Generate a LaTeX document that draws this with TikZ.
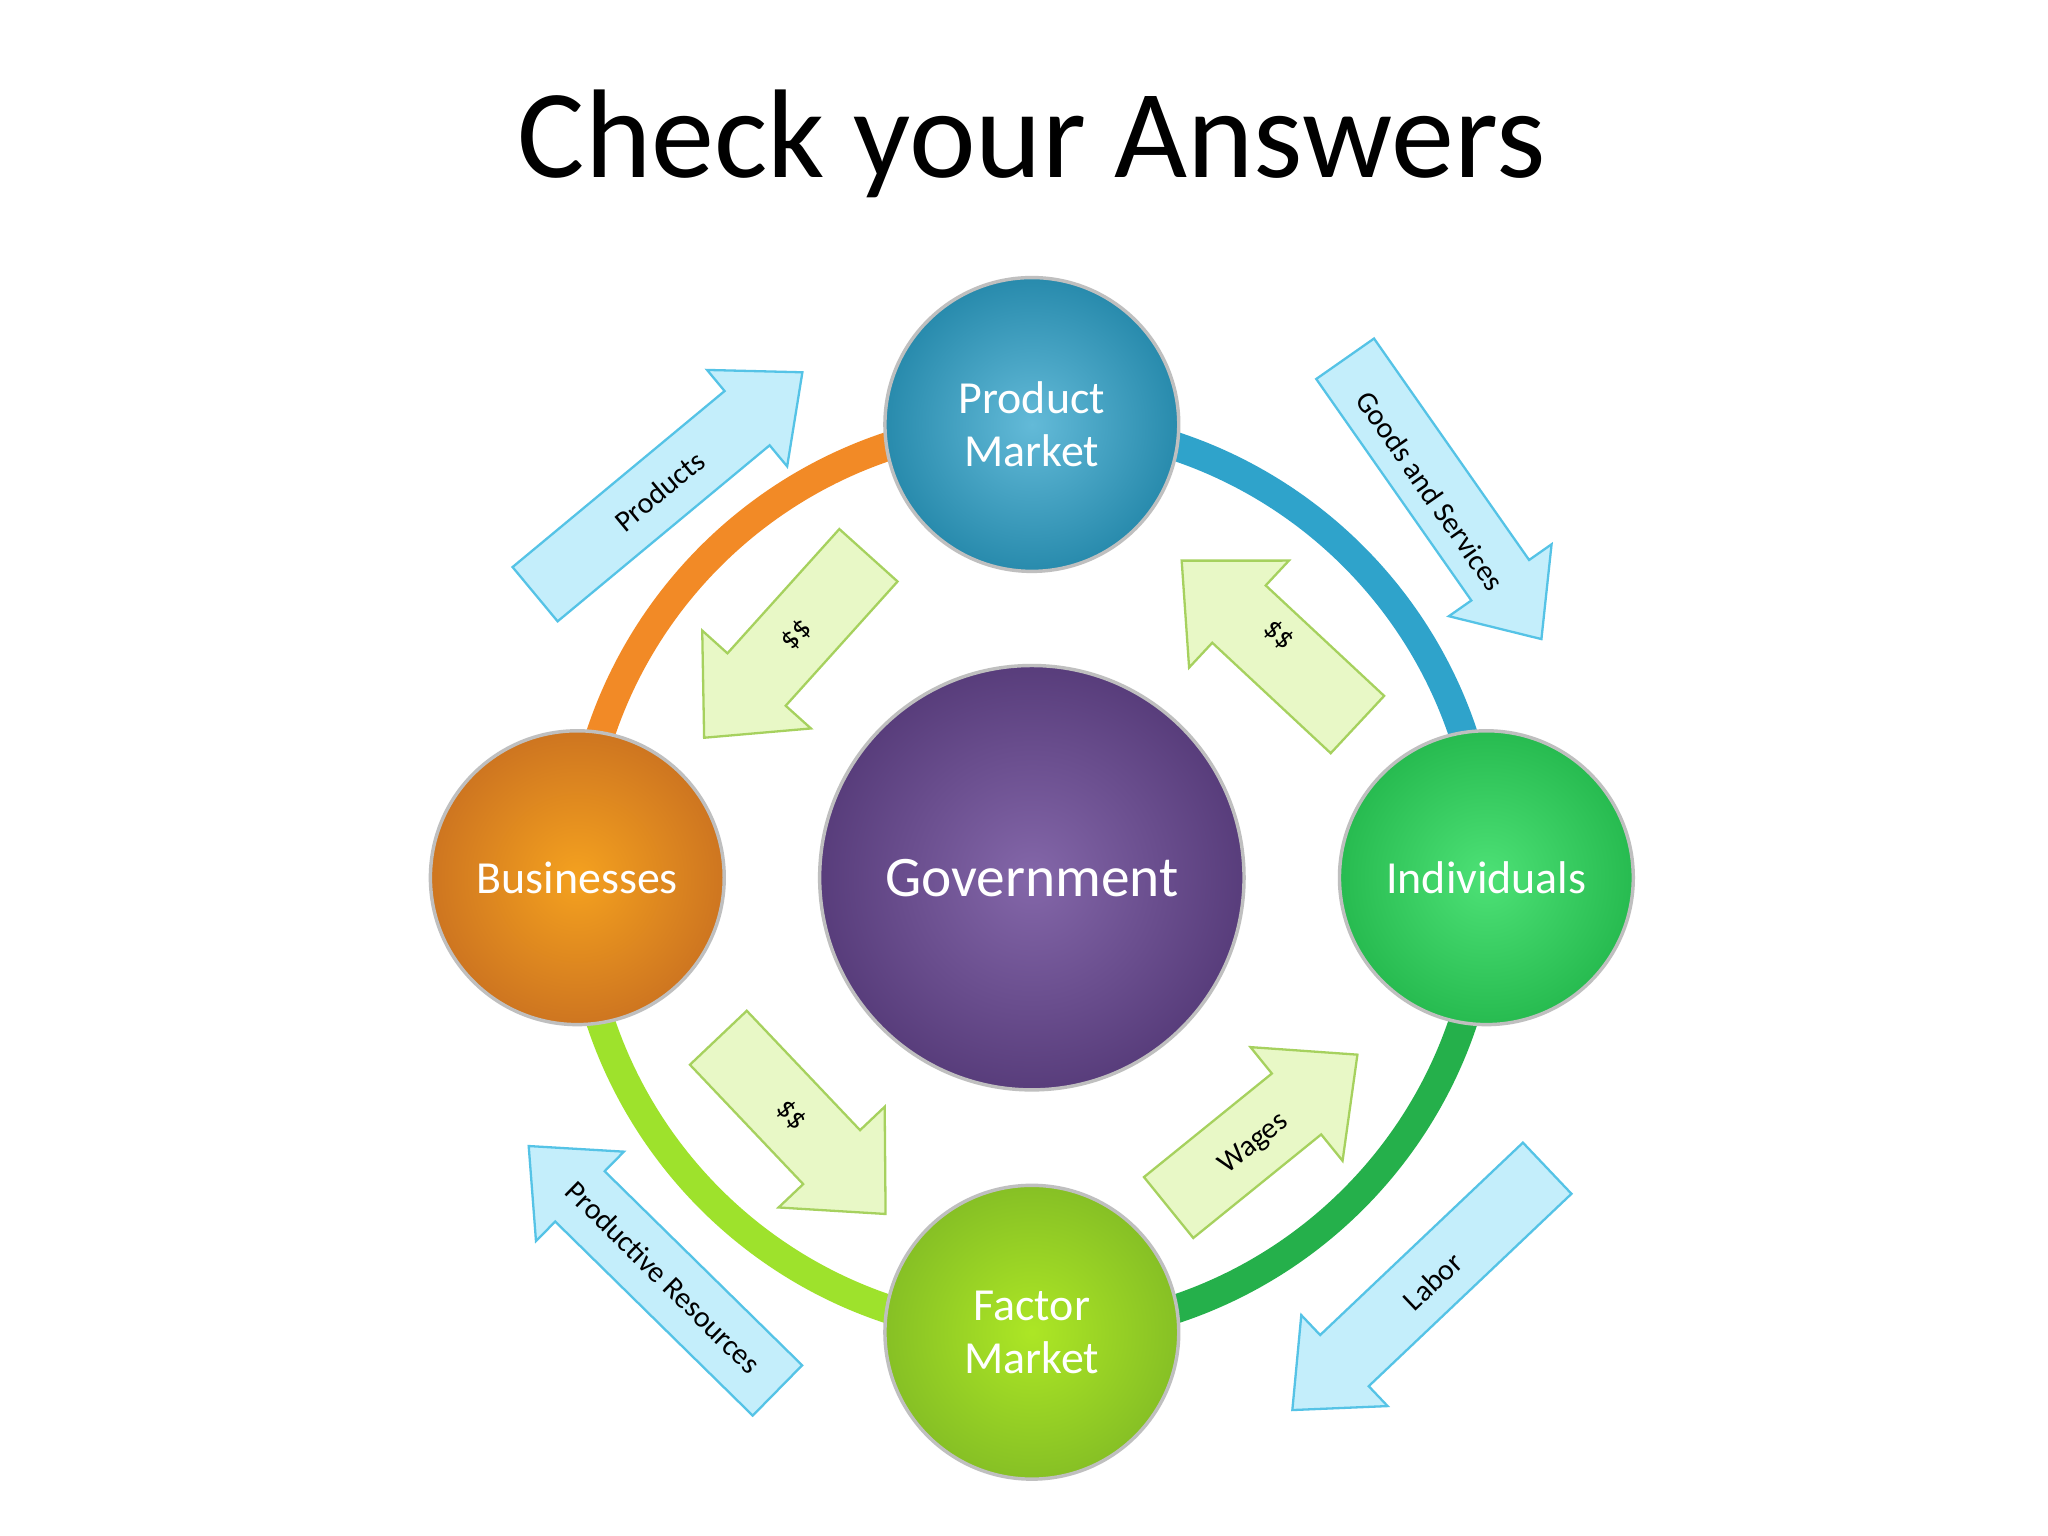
\documentclass[tikz,border=0pt]{standalone}
\usepackage{fontspec}
\setmainfont{Carlito}
\definecolor{pmc}{HTML}{2FA3CB}
\definecolor{buc}{HTML}{F28A26}
\definecolor{inc}{HTML}{2EDC5E}
\definecolor{fmc}{HTML}{9EE22C}
\definecolor{goc}{HTML}{6E4C9A}
\definecolor{bfill}{HTML}{C4EEFB}
\definecolor{bdraw}{HTML}{55C3E6}
\definecolor{gfill}{HTML}{E8F8C6}
\definecolor{gdraw}{HTML}{A6D15E}
\tikzset{
  ball/.style={circle,minimum size=#1,inner sep=0pt,draw=white!75!black,line width=1.5pt,text=white,font=\fontsize{20}{23}\selectfont,align=center},
  barrow/.style={draw=bdraw,fill=bfill,line width=1pt,line join=miter},
  garrow/.style={draw=gdraw,fill=gfill,line width=1pt,line join=miter},
  alab/.style={font=\fontsize{13}{15}\selectfont,text=black},
  ring/.style={line width=12.5pt}
}
% #1 x, #2 y, #3 angle, #4 length, #5 half body, #6 half head, #7 head length, #8 style
\newcommand\myarr[8]{%
  \draw[#8,shift={(#1,#2)},rotate=#3]
    (-#4/2,-#5) -- ({#4/2-#7},-#5) -- ({#4/2-#7},-#6) -- (#4/2,0) -- ({#4/2-#7},#6) -- ({#4/2-#7},#5) -- (-#4/2,#5) -- cycle;}
\begin{document}
\begin{tikzpicture}[x=0.02cm,y=0.02cm]
\useasboundingbox (0,0) rectangle (1568,1176);
\fill[white] (0,0) rectangle (1568,1176);
\node (title) at (790,1066) {\fontsize{55}{62}\selectfont Check your Answers};
% ring
\draw[ring,buc] (790,504) ++(90:348) arc (90:180:348);
\draw[ring,pmc] (790,504) ++(0:348) arc (0:90:348);
\draw[ring,inc!80!black] (790,504) ++(270:348) arc (270:360:348);
\draw[ring,fmc] (790,504) ++(180:348) arc (180:270:348);
% arrows
\myarr{512}{806}{39.7}{266}{27}{48}{55}{barrow}
\coordinate (a1) at (505,800); \node[alab,rotate=39.7] at (a1) {Products};
\myarr{1105}{794}{-55}{262}{27}{48}{55}{barrow}
\coordinate (a2) at (1095,800); \node[alab,rotate=-55] at (a2) {Goods and Services};
\myarr{1087}{189}{-136.5}{269}{27}{48}{55}{barrow}
\coordinate (a3) at (1097,195); \node[alab,rotate=43.5] at (a3) {Labor};
\myarr{500}{205}{135.5}{267}{27}{48}{55}{barrow}
\coordinate (a4) at (508,198); \node[alab,rotate=-44.5] at (a4) {Productive Resources};
\myarr{602}{681}{-132}{188}{30}{56}{60}{garrow}
\coordinate (g1) at (610,690); \node[alab,rotate=-132] at (g1) {\$\$};
\myarr{972}{684}{137}{184}{30}{56}{60}{garrow}
\coordinate (g2) at (979,690); \node[alab,rotate=-43] at (g2) {\$\$};
\myarr{614}{314}{-46.5}{186}{30}{56}{60}{garrow}
\coordinate (g3) at (606,322); \node[alab,rotate=-46.5] at (g3) {\$\$};
\myarr{967}{310}{39}{186}{30}{56}{60}{garrow}
\coordinate (g4) at (960,300); \node[alab,rotate=39] at (g4) {Wages};
% balls
\node[ball=4.5cm,inner color=pmc!75!white,outer color=pmc!85!black] (pm) at (790,851) {Product\\Market};
\node[ball=4.5cm,inner color=buc!80!yellow,outer color=buc!85!black] (bu) at (442,504) {Businesses};
\node[ball=4.5cm,inner color=inc!85!white,outer color=inc!85!black] (in) at (1138,504) {Individuals};
\node[ball=4.5cm,inner color=fmc!85!yellow,outer color=fmc!85!black] (fm) at (790,156) {Factor\\Market};
\node[ball=6.5cm,inner color=goc!85!white,outer color=goc!80!black,font=\fontsize{25}{29}\selectfont] (go) at (790,504) {Government};
\end{tikzpicture}
\end{document}
